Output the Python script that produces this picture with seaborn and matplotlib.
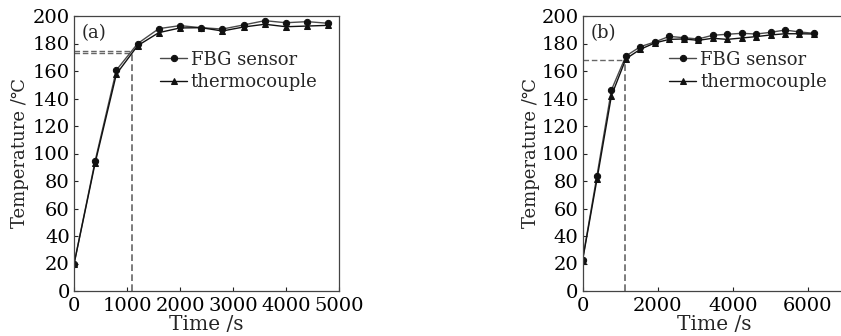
import matplotlib
matplotlib.use("Agg")
import matplotlib.pyplot as plt
import seaborn as sns
import pandas as pd

# ---- data ----
time_a = [0, 400, 800, 1200, 1600, 2000, 2400, 2800, 3200, 3600, 4000, 4400, 4800]
fbg_a = [19.5, 94.8, 160.7, 179.9, 190.8, 193.0, 191.5, 190.5, 193.5, 196.6, 195.1, 195.9, 194.7]
tc_a = [19.5, 93.3, 157.8, 178.4, 187.9, 191.3, 191.5, 189.1, 192.0, 194.0, 192.2, 192.7, 193.2]

time_b = [0, 385, 770, 1155, 1540, 1925, 2310, 2695, 3080, 3465, 3850, 4235, 4620, 5005, 5390, 5775, 6160]
fbg_b = [22.5, 83.9, 146.2, 170.9, 177.7, 181.1, 185.2, 184.2, 183.3, 186.0, 186.7, 187.4, 186.9, 188.1, 189.8, 188.4, 187.4]
tc_b = [22.0, 81.2, 142.0, 168.9, 175.8, 180.4, 183.0, 183.3, 182.3, 183.8, 183.0, 184.0, 185.0, 186.2, 187.1, 187.1, 186.9]

series_names = ["FBG sensor", "thermocouple"]
panel_labels = ["(a)", "(b)"]
xlims = [(0, 5000), (0, 7000)]
xticks = [[0, 1000, 2000, 3000, 4000, 5000], [0, 2000, 4000, 6000]]
yticks = list(range(0, 201, 20))
# guide lines (x cross, y levels)
guide_a_x = 1095
guide_a_y = [174.8, 173.3]
guide_b_x = 1125
guide_b_y = [168.3]

sns.set_style("ticks")
plt.rcParams["font.family"] = ["DejaVu Serif", "DejaVu Sans"]
plt.rcParams["mathtext.fontset"] = "dejavuserif"

fig = plt.figure(figsize=(8.41, 3.36), dpi=100)
ax_a = fig.add_axes([74 / 841, 45 / 336, 265 / 841, 275 / 336])
ax_b = fig.add_axes([582.5 / 841, 45 / 336, 263 / 841, 275 / 336])

def make_df(t, f, c):
    return pd.DataFrame({
        "time": list(t) + list(t),
        "temp": list(f) + list(c),
        "series": [series_names[0]] * len(t) + [series_names[1]] * len(t),
    })

panels = [
    (ax_a, make_df(time_a, fbg_a, tc_a), guide_a_x, guide_a_y),
    (ax_b, make_df(time_b, fbg_b, tc_b), guide_b_x, guide_b_y),
]

palette = {series_names[0]: "#4a4a4a", series_names[1]: "#111111"}
markers = {series_names[0]: "o", series_names[1]: "^"}

fs = 13
fs_tick = 14
for i, (ax, df, gx, gys) in enumerate(panels):
    sns.lineplot(data=df, x="time", y="temp", hue="series", style="series",
                 palette=palette, markers=markers, dashes=False, ax=ax,
                 linewidth=1.0, markersize=4.5, markeredgecolor="#111111",
                 markerfacecolor="#111111", legend=True)
    for gy in gys:
        ax.plot([0, gx], [gy, gy], ls=(0, (4, 2)), color="#666666", lw=1.0, zorder=1)
    ax.plot([gx, gx], [0, max(gys)], ls=(0, (4, 2)), color="#666666", lw=1.2, zorder=1)
    ax.set_xlim(*xlims[i])
    ax.set_ylim(0, 200)
    ax.set_xticks(xticks[i])
    ax.set_yticks(yticks)
    ax.tick_params(direction="in", length=3, width=0.8, labelsize=fs_tick,
                   colors="#222222", labelcolor="black")
    ax.tick_params(axis="x", pad=4)
    ax.tick_params(axis="y", pad=3)
    for s in ax.spines.values():
        s.set_linewidth(0.9)
        s.set_color("#444444")
    ax.set_xlabel("Time /s", fontsize=14.5, labelpad=0)
    ax.set_ylabel("Temperature /\u2103", fontsize=fs, labelpad=3 if i == 0 else 1)
    ax.text(0.03, 0.938, panel_labels[i], transform=ax.transAxes,
            fontsize=fs, ha="left", va="center")
    handles, labels = ax.get_legend_handles_labels()
    ax.legend(handles, labels, loc="center left",
              bbox_to_anchor=(0.325 if i == 0 else 0.33, 0.80),
              frameon=False, fontsize=fs, handlelength=1.5, handletextpad=0.2,
              labelspacing=0.25, borderpad=0, borderaxespad=0)

fig.savefig("out.png", dpi=100)
